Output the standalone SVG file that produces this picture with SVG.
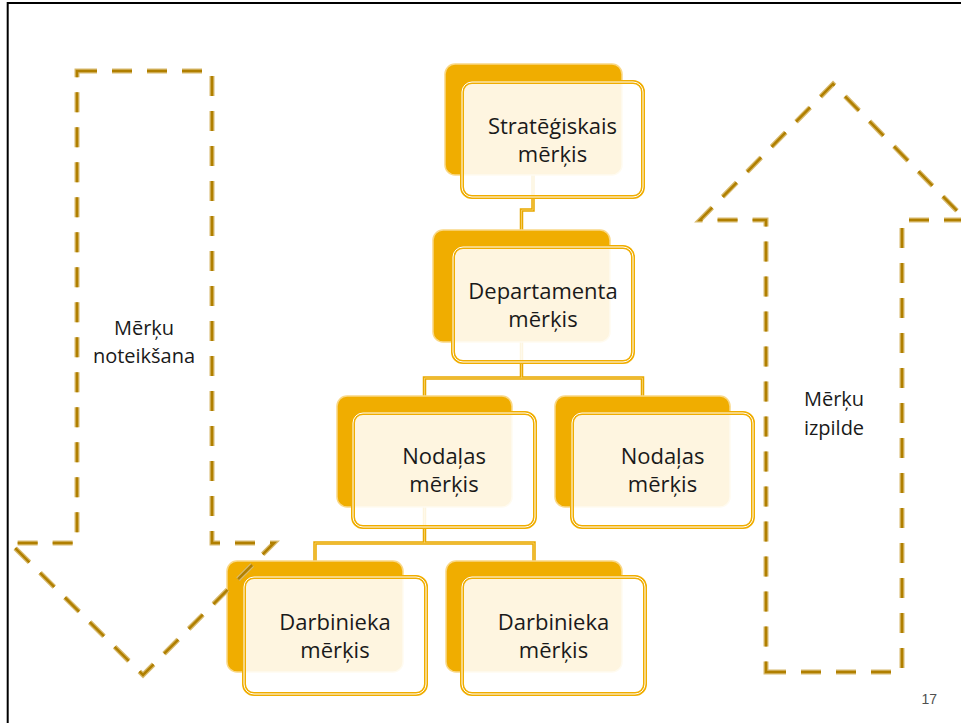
<svg xmlns="http://www.w3.org/2000/svg" width="961" height="723" viewBox="0 0 961 723">
<style>
.back{fill:#F0AD00;stroke:#F9D887;stroke-width:1.5}
.front{fill:#FFFFFF;fill-opacity:0.88;stroke:#F0AD00;stroke-width:4}
.inner{fill:none;stroke:#FFFFFF;stroke-width:1}
.conn{fill:none;stroke:#E8A800;stroke-width:3.5}
.connIn{fill:none;stroke:#F6CC5C;stroke-width:1}
.arrowA{fill:none;stroke:#D8BA6E;stroke-width:5;stroke-dasharray:20 15}
.arrowB{fill:none;stroke:#B07F00;stroke-width:2.5;stroke-dasharray:20 15}
.t{font-family:"Open Sans","Noto Sans",sans-serif;font-size:22px;fill:#1A1A1A;text-anchor:middle}
.lab{font-family:"Open Sans","Noto Sans",sans-serif;font-size:20px;fill:#1A1A1A;text-anchor:middle}
</style>
<rect x="0" y="0" width="961" height="723" fill="#FFFFFF"/>
<g id="frame">
<line x1="7.7" y1="3" x2="961" y2="3" stroke="#000" stroke-width="2"/>
<line x1="7.7" y1="2" x2="7.7" y2="723" stroke="#000" stroke-width="2"/>
</g>
<g id="connectors">
<path class="conn" d="M533,175 V210 H521.5 V230"/>
<path class="conn" d="M521.5,342 V378 M424.5,396 V378 H642.5 V396"/>
<path class="conn" d="M424.5,507 V543 M315,561 V543 H534 V561"/>
<path class="connIn" d="M533,175 V210 H521.5 V230"/>
<path class="connIn" d="M521.5,342 V378 M424.5,396 V378 H642.5 V396"/>
<path class="connIn" d="M424.5,507 V543 M315,561 V543 H534 V561"/>
</g>
<g id="node-strategic">
<rect class="back" x="445" y="64" width="177" height="111" rx="10"/>
<rect class="front" x="462" y="82" width="181" height="115" rx="10"/>
<rect class="inner" x="462" y="82" width="181" height="115" rx="10"/>
<text class="t" x="552.5" y="133.5">Stratēģiskais</text>
<text class="t" x="552.5" y="161.5">mērķis</text>
</g>
<g id="node-department">
<rect class="back" x="433" y="230" width="177" height="112" rx="10"/>
<rect class="front" x="453" y="247" width="180" height="115" rx="10"/>
<rect class="inner" x="453" y="247" width="180" height="115" rx="10"/>
<text class="t" x="543" y="298.5">Departamenta</text>
<text class="t" x="543" y="326.5">mērķis</text>
</g>
<g id="node-nodalas-1">
<rect class="back" x="337" y="396" width="175" height="111" rx="10"/>
<rect class="front" x="353" y="413" width="182" height="114" rx="10"/>
<rect class="inner" x="353" y="413" width="182" height="114" rx="10"/>
<text class="t" x="444" y="464">Nodaļas</text>
<text class="t" x="444" y="492">mērķis</text>
</g>
<g id="node-nodalas-2">
<rect class="back" x="555" y="396" width="175" height="111" rx="10"/>
<rect class="front" x="572" y="413" width="181" height="114" rx="10"/>
<rect class="inner" x="572" y="413" width="181" height="114" rx="10"/>
<text class="t" x="662.5" y="464">Nodaļas</text>
<text class="t" x="662.5" y="492">mērķis</text>
</g>
<g id="node-darbinieka-1">
<rect class="back" x="227" y="561" width="176" height="111" rx="10"/>
<rect class="front" x="244" y="577" width="182" height="117" rx="10"/>
<rect class="inner" x="244" y="577" width="182" height="117" rx="10"/>
<text class="t" x="335" y="629.5">Darbinieka</text>
<text class="t" x="335" y="657.5">mērķis</text>
</g>
<g id="node-darbinieka-2">
<rect class="back" x="446" y="561" width="176" height="111" rx="10"/>
<rect class="front" x="462" y="577" width="183" height="117" rx="10"/>
<rect class="inner" x="462" y="577" width="183" height="117" rx="10"/>
<text class="t" x="553.5" y="629.5">Darbinieka</text>
<text class="t" x="553.5" y="657.5">mērķis</text>
</g>
<g id="arrow-down">
<path class="arrowA" d="M77,71 H212 V543 H274 L143,675 L10,543 H77 Z"/>
<path class="arrowB" d="M77,71 H212 V543 H274 L143,675 L10,543 H77 Z"/>
<text class="lab" x="144" y="335">Mērķu</text>
<text class="lab" x="144" y="363">noteikšana</text>
</g>
<g id="arrow-up">
<path class="arrowA" d="M766,672 H902 V220 H966 L833,84 L700,220 H766 Z"/>
<path class="arrowB" d="M766,672 H902 V220 H966 L833,84 L700,220 H766 Z"/>
<text class="lab" x="834" y="406">Mērķu</text>
<text class="lab" x="834" y="435">izpilde</text>
</g>
<text x="937" y="704" font-family="Liberation Sans, Arial, sans-serif" font-size="14" fill="#505050" text-anchor="end">17</text>
</svg>
